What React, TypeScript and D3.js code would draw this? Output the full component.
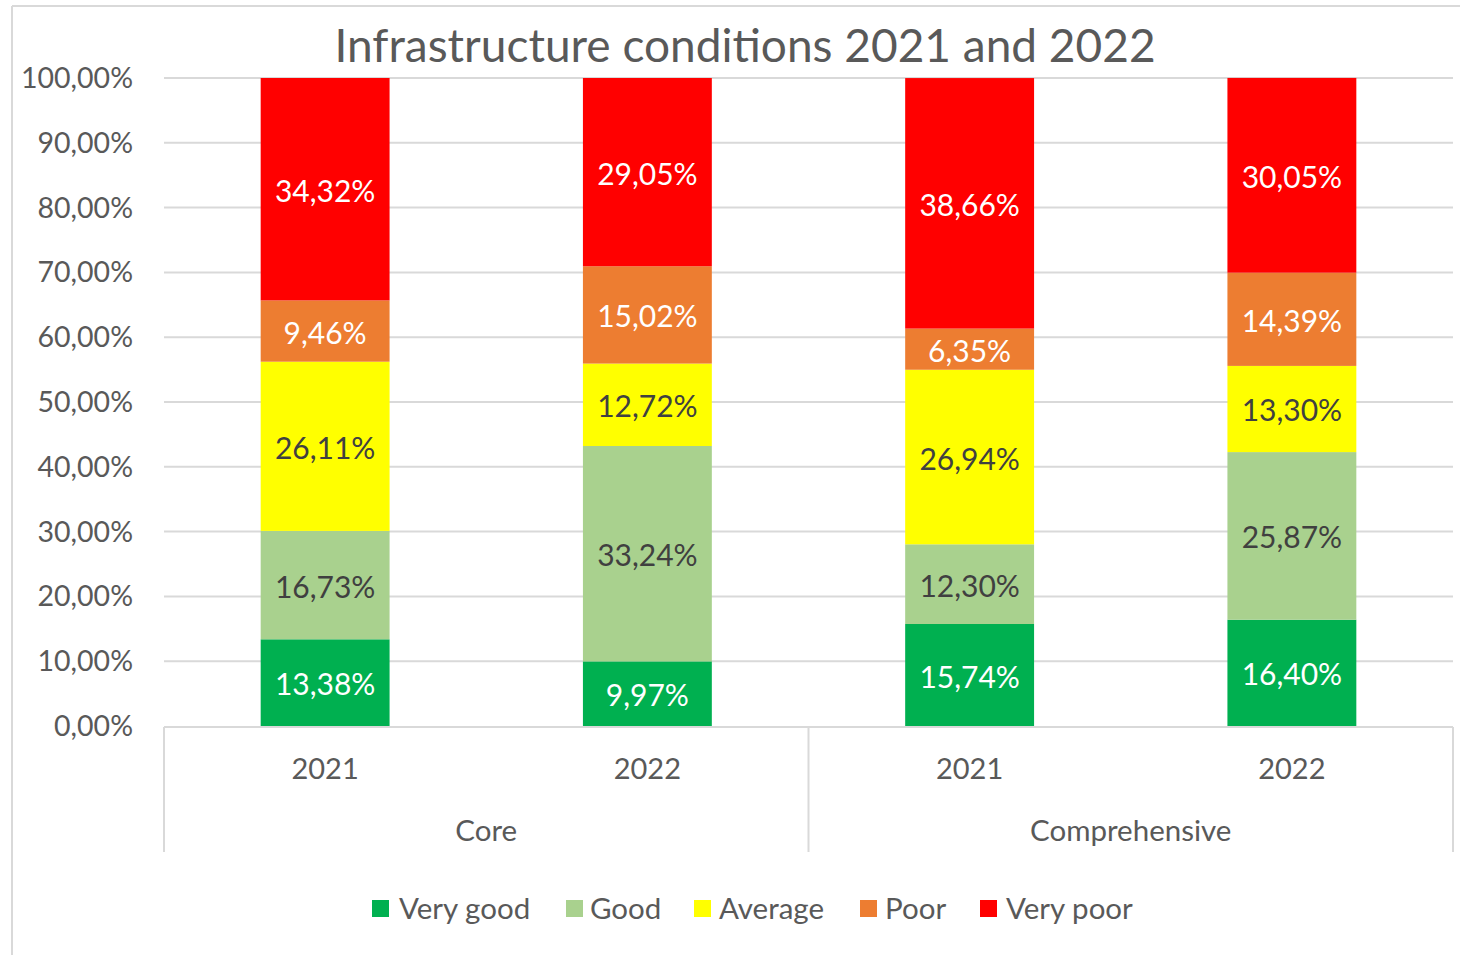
import React from "react";
import * as d3 from "d3";

const groups = ["Core", "Core", "Comprehensive", "Comprehensive"];
const years = ["2021", "2022", "2021", "2022"];
const groupNames = ["Core", "Comprehensive"];
const seriesNames = ["Very good", "Good", "Average", "Poor", "Very poor"];
const seriesColors = ["#00B050", "#A9D18E", "#FFFF00", "#ED7D31", "#FF0000"];
const labelColors = ["#FFFFFF", "#404040", "#404040", "#FFFFFF", "#FFFFFF"];
const veryGood = [13.38, 9.97, 15.74, 16.4];
const good = [16.73, 33.24, 12.3, 25.87];
const average = [26.11, 12.72, 26.94, 13.3];
const poor = [9.46, 15.02, 6.35, 14.39];
const veryPoor = [34.32, 29.05, 38.66, 30.05];
const yTicks = [0, 10, 20, 30, 40, 50, 60, 70, 80, 90, 100];

const W = 1460;
const H = 955;
const FONT = "Lato, 'Open Sans', sans-serif";

export default function App() {
  const left = 164;
  const right = 1453;
  const top = 78;
  const bottom = 726;
  const x = d3.scaleBand<number>().domain(d3.range(years.length)).range([left, right]).paddingInner(0.6).paddingOuter(0.3);
  const y = d3.scaleLinear().domain([0, 100]).range([bottom, top]);
  const fmt = (v: number) => v.toFixed(2).replace(".", ",") + "%";

  const table = years.map((yr, i) => ({
    i,
    "Very good": veryGood[i],
    Good: good[i],
    Average: average[i],
    Poor: poor[i],
    "Very poor": veryPoor[i],
  }));
  const stacked = d3.stack<any>().keys(seriesNames)(table);

  const step = (right - left) / years.length;
  const groupBounds = groupNames.map((g) => {
    const idx = groups.map((gg, i) => (gg === g ? i : -1)).filter((i) => i >= 0);
    const x0 = left + step * idx[0];
    const x1 = left + step * (idx[idx.length - 1] + 1);
    return { g, x0, x1 };
  });

  const legendItems = [
    { sx: 372, tx: 399 },
    { sx: 566, tx: 590 },
    { sx: 694, tx: 719 },
    { sx: 860, tx: 885 },
    { sx: 980, tx: 1006 },
  ];

  return (
    <svg width={W} height={H} style={{ position: "absolute", left: 0, top: 0, background: "#fff" }}>
      <rect x={0} y={0} width={W} height={H} fill="#fff" />
      <line x1={12} y1={6} x2={W} y2={6} stroke="#d9d9d9" strokeWidth={2} />
      <line x1={12} y1={6} x2={12} y2={H} stroke="#d9d9d9" strokeWidth={2} />
      <text x={745} y={62} textAnchor="middle" fontFamily={FONT} fontSize={46} fill="#595959">
        Infrastructure conditions 2021 and 2022
      </text>
      {yTicks.map((t) => (
        <g key={t}>
          {t > 0 && <line x1={left} x2={right} y1={y(t)} y2={y(t)} stroke="#d9d9d9" strokeWidth={2} />}
          <text x={133} y={y(t)} dy="0.35em" textAnchor="end" fontFamily={FONT} fontSize={28.5} fill="#595959">
            {fmt(t)}
          </text>
        </g>
      ))}
      {stacked.map((s, si) => (
        <g key={s.key}>
          {s.map((d, i) => (
            <rect key={i} x={x(i)} width={x.bandwidth()} y={y(d[1])} height={y(d[0]) - y(d[1])} fill={seriesColors[si]} />
          ))}
        </g>
      ))}
      {stacked.map((s, si) => (
        <g key={"l" + s.key}>
          {s.map((d, i) => (
            <text
              key={i}
              x={(x(i) as number) + x.bandwidth() / 2}
              y={y((d[0] + d[1]) / 2) + 2}
              dy="0.35em"
              textAnchor="middle"
              fontFamily={FONT}
              fontSize={30}
              fill={labelColors[si]}
            >
              {fmt(d[1] - d[0])}
            </text>
          ))}
        </g>
      ))}
      <line x1={left} x2={right} y1={bottom + 1} y2={bottom + 1} stroke="#d9d9d9" strokeWidth={2} />
      {[left, ...groupBounds.map((b) => b.x1)].map((xx, i) => (
        <line key={i} x1={xx} x2={xx} y1={bottom + 1} y2={852} stroke="#d9d9d9" strokeWidth={2} />
      ))}
      {years.map((yr, i) => (
        <text key={i} x={left + step * (i + 0.5)} y={769} dy="0.35em" textAnchor="middle" fontFamily={FONT} fontSize={29} fill="#595959">
          {yr}
        </text>
      ))}
      {groupBounds.map((b) => (
        <text key={b.g} x={(b.x0 + b.x1) / 2} y={831} dy="0.35em" textAnchor="middle" fontFamily={FONT} fontSize={29.5} fill="#595959">
          {b.g}
        </text>
      ))}
      {seriesNames.map((n, i) => (
        <g key={n}>
          <rect x={legendItems[i].sx} y={900} width={17} height={17} fill={seriesColors[i]} />
          <text x={legendItems[i].tx} y={909} dy="0.35em" fontFamily={FONT} fontSize={29.5} fill="#595959">
            {n}
          </text>
        </g>
      ))}
    </svg>
  );
}
